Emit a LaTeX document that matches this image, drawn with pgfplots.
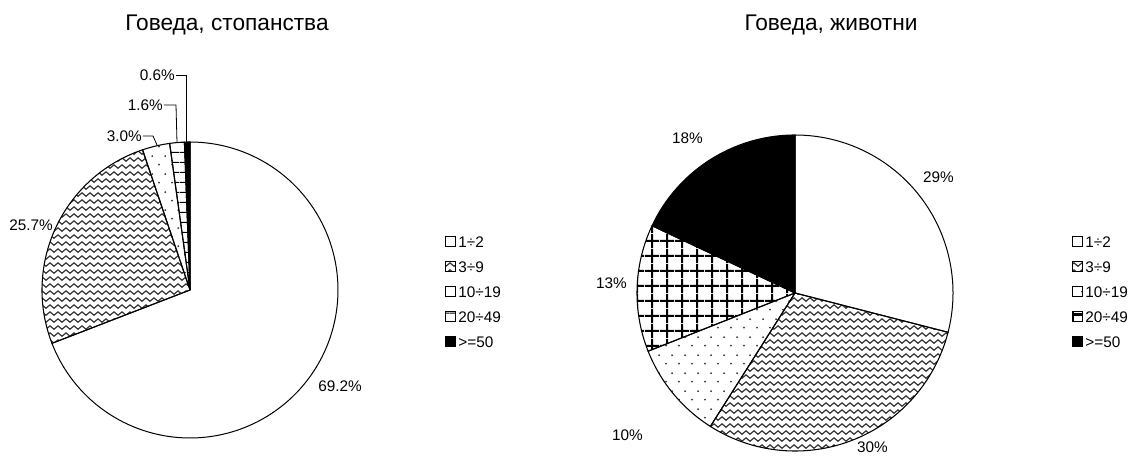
\documentclass[border=0pt]{standalone}
\usepackage{fontspec}
\setmainfont{Liberation Sans}
\usepackage{pgfplots}
\pgfplotsset{compat=1.18}
\usetikzlibrary{patterns}

% wavy rows
\pgfdeclarepatternformonly{mywaves}{\pgfqpoint{-0.5pt}{0pt}}{\pgfqpoint{6.5pt}{5.25pt}}{\pgfqpoint{6pt}{5.25pt}}{%
  \pgfsetlinewidth{0.9pt}%
  \pgfpathmoveto{\pgfqpoint{0pt}{2.6pt}}%
  \pgfpathsine{\pgfqpoint{1.5pt}{1.25pt}}%
  \pgfpathcosine{\pgfqpoint{1.5pt}{-1.25pt}}%
  \pgfpathsine{\pgfqpoint{1.5pt}{-1.25pt}}%
  \pgfpathcosine{\pgfqpoint{1.5pt}{1.25pt}}%
  \pgfusepath{stroke}}
% sparse staggered dots
\pgfdeclarepatternformonly{mydots}{\pgfqpoint{0pt}{0pt}}{\pgfqpoint{9.75pt}{13.5pt}}{\pgfqpoint{9.75pt}{13.5pt}}{%
  \pgfpathcircle{\pgfqpoint{2.4pt}{3.4pt}}{0.8pt}%
  \pgfpathcircle{\pgfqpoint{7.3pt}{10.1pt}}{0.8pt}%
  \pgfusepath{fill}}
% thick grid
\pgfdeclarepatternformonly{mygrid}{\pgfqpoint{0pt}{0pt}}{\pgfqpoint{11.25pt}{11.25pt}}{\pgfqpoint{11.25pt}{11.25pt}}{%
  \pgfsetlinewidth{1.6pt}%
  \pgfpathmoveto{\pgfqpoint{5.625pt}{0pt}}\pgfpathlineto{\pgfqpoint{5.625pt}{11.25pt}}%
  \pgfpathmoveto{\pgfqpoint{0pt}{5.625pt}}\pgfpathlineto{\pgfqpoint{11.25pt}{5.625pt}}%
  \pgfusepath{stroke}}
% horizontal lines
\pgfdeclarepatternformonly{myhlines}{\pgfqpoint{0pt}{0pt}}{\pgfqpoint{7.5pt}{7.5pt}}{\pgfqpoint{7.5pt}{7.5pt}}{%
  \pgfsetlinewidth{0.8pt}%
  \pgfpathmoveto{\pgfqpoint{0pt}{3.75pt}}\pgfpathlineto{\pgfqpoint{7.5pt}{3.75pt}}%
  \pgfusepath{stroke}}

\newcommand\titlefont{\fontsize{17}{19}\selectfont}
\newcommand\labfont{\fontsize{11.5}{13}\selectfont}

% a pie wedge between two angles (degrees)
\newcommand\piewedge[3]{%
  \addplot[#1, domain=#2:#3, samples=120, variable=\t] ({cos(t)},{sin(t)}) -- (axis cs:0,0) -- cycle;}

\pgfplotsset{
  pie/.style={
    scale only axis, hide axis, clip=false,
    xmin=-1, xmax=1, ymin=-1, ymax=1,
    legend cell align=left,
    legend image code/.code={\draw[##1, line width=0.5pt] (0pt,-3.75pt) rectangle (7.5pt,3.75pt);},
    legend style={draw=none, fill=none, inner sep=0pt, anchor=west,
      row sep=10.55pt,
      nodes={inner ysep=0pt, inner xsep=1.8pt, text height=8.2pt, text depth=0pt, font=\labfont}},
  },
  w1/.style={draw=black, line width=0.75pt, fill=white},
  w2/.style={draw=black, line width=0.8pt, pattern=mywaves, pattern color=black!80},
  w3/.style={draw=black, line width=0.8pt, pattern=mydots, pattern color=black!80},
  w4a/.style={draw=black, line width=0.8pt, pattern=myhlines, pattern color=black},
  w4b/.style={draw=black, line width=0.8pt, pattern=mygrid, pattern color=black},
  w5/.style={draw=black, line width=0.8pt, fill=black},
}

% data: shares in percent, clockwise from 12 o'clock
\def\La{69.2}\def\Lb{25.7}\def\Lc{3.0}\def\Ld{1.6}\def\Le{0.6}
\def\Ra{29}\def\Rb{30}\def\Rc{10}\def\Rd{13}\def\Re{18}

\begin{document}
\begin{tikzpicture}
\useasboundingbox (0,0) rectangle (847.5pt,342.75pt);

% angles, left pie
\pgfmathsetmacro\LT{\La+\Lb+\Lc+\Ld+\Le}
\pgfmathsetmacro\LAa{90}
\pgfmathsetmacro\LAb{\LAa-360*(\La/\LT)}
\pgfmathsetmacro\LAc{\LAb-360*(\Lb/\LT)}
\pgfmathsetmacro\LAd{\LAc-360*(\Lc/\LT)}
\pgfmathsetmacro\LAe{\LAd-360*(\Ld/\LT)}
\pgfmathsetmacro\LAf{\LAe-360*(\Le/\LT)}
% angles, right pie
\pgfmathsetmacro\RT{\Ra+\Rb+\Rc+\Rd+\Re}
\pgfmathsetmacro\RAa{90}
\pgfmathsetmacro\RAb{\RAa-360*(\Ra/\RT)}
\pgfmathsetmacro\RAc{\RAb-360*(\Rb/\RT)}
\pgfmathsetmacro\RAd{\RAc-360*(\Rc/\RT)}
\pgfmathsetmacro\RAe{\RAd-360*(\Rd/\RT)}
\pgfmathsetmacro\RAf{\RAe-360*(\Re/\RT)}

\node[anchor=base, font=\titlefont] at (170.25pt,319.5pt) {Говеда, стопанства};
\node[anchor=base, font=\titlefont] at (623.25pt,319.5pt) {Говеда, животни};

\begin{axis}[pie, at={(142.5pt,125.25pt)}, anchor=center, width=222pt, height=222pt,
  legend style={at={(axis description cs:1.3615,0.4943)}}]
\piewedge{w1}{\LAb}{\LAa}
\piewedge{w2}{\LAc}{\LAb}
\piewedge{w3}{\LAd}{\LAc}
\piewedge{w4a}{\LAe}{\LAd}
\piewedge{w5}{\LAf}{\LAe}
\legend{1÷2,3÷9,10÷19,20÷49,>=50}
\node[anchor=east, inner sep=0pt, font=\labfont] at (axis cs:-0.1014,1.4527) {0.6\%};
\node[anchor=east, inner sep=0pt, font=\labfont] at (axis cs:-0.1824,1.25) {1.6\%};
\node[anchor=east, inner sep=0pt, font=\labfont] at (axis cs:-0.3243,1.0405) {3.0\%};
\node[anchor=east, inner sep=0pt, font=\labfont] at (axis cs:-0.9257,0.4392) {25.7\%};
\node[anchor=west, inner sep=0pt, font=\labfont] at (axis cs:0.8649,-0.6486) {69.2\%};
\draw[line width=0.6pt] (axis cs:-0.0946,1.4527) -- (axis cs:-0.027,1.4527) -- (axis cs:-0.027,1.0);
\draw[line width=0.6pt] (axis cs:-0.1757,1.25) -- (axis cs:-0.0946,1.25) -- (axis cs:-0.0878,0.995);
\draw[line width=0.6pt] (axis cs:-0.3176,1.0405) -- (axis cs:-0.25,1.0405) -- (axis cs:-0.223,0.98);
\end{axis}

\begin{axis}[pie, at={(596.25pt,123pt)}, anchor=center, width=237pt, height=237pt,
  legend style={at={(axis description cs:1.3766,0.5041)}}]
\piewedge{w1}{\RAb}{\RAa}
\piewedge{w2}{\RAc}{\RAb}
\piewedge{w3}{\RAd}{\RAc}
\piewedge{w4b}{\RAe}{\RAd}
\piewedge{w5}{\RAf}{\RAe}
\legend{1÷2,3÷9,10÷19,20÷49,>=50}
\node[inner sep=0pt, font=\labfont] at (axis cs:0.9082,0.7342) {29\%};
\node[inner sep=0pt, font=\labfont] at (axis cs:-0.6804,0.981) {18\%};
\node[inner sep=0pt, font=\labfont] at (axis cs:-1.1614,0.0633) {13\%};
\node[inner sep=0pt, font=\labfont] at (axis cs:-1.0601,-0.8987) {10\%};
\node[inner sep=0pt, font=\labfont] at (axis cs:0.4905,-0.975) {30\%};
\end{axis}
\end{tikzpicture}
\end{document}
